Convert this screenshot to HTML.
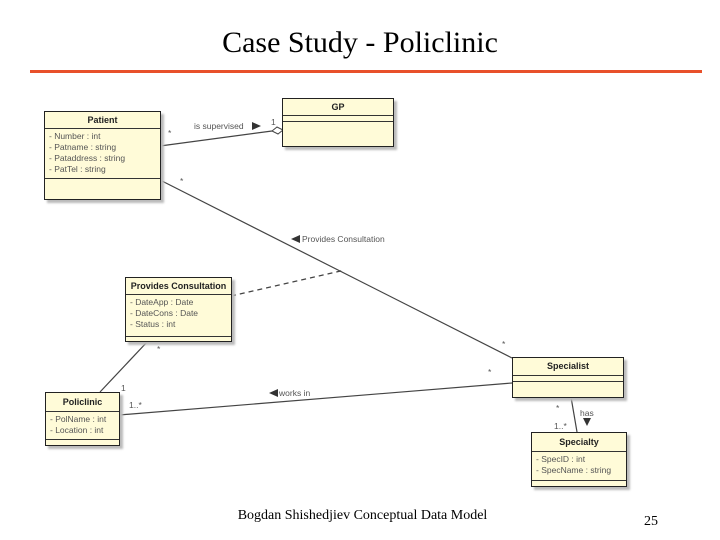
<!DOCTYPE html>
<html><head><style>
body{margin:0;width:720px;height:540px;background:#fff;position:relative;overflow:hidden;font-family:"Liberation Sans",sans-serif}
.t{position:absolute;white-space:nowrap}
.box{position:absolute;background:#fffbd8;border:1.5px solid #222;box-shadow:3px 3px 2px #bbb;box-sizing:border-box}
.h{font-weight:bold;font-size:9px;text-align:center;border-bottom:1px solid #333;color:#222}
.a{font-size:8.5px;color:#555;padding:2px 4px;line-height:11px;border-bottom:1px solid #333}
.l{font-size:8.5px;color:#555}
</style></head><body>
<div class="t" style="left:0;width:720px;text-align:center;top:26px;font-family:'Liberation Serif',serif;font-size:30px">Case Study - Policlinic</div>
<div style="position:absolute;left:30px;top:70px;width:672px;height:3px;background:#e8502a"></div>

<svg width="720" height="540" style="position:absolute;left:0;top:0">
<g stroke="#444" stroke-width="1.2" fill="none">
<line x1="160" y1="146" x2="272" y2="131"/>
<line x1="160" y1="180" x2="512" y2="358"/>
<line x1="231" y1="296" x2="345" y2="270" stroke-dasharray="5,4"/>
<line x1="148" y1="341" x2="100" y2="392"/>
<line x1="119" y1="415" x2="512" y2="383"/>
<line x1="571" y1="397" x2="577" y2="432"/>
</g>
<polygon points="272,131 277,127 283,130 278,134" fill="#fff" stroke="#444"/>
<polygon points="252,122 261,126 252,130" fill="#333"/>
<polygon points="300,235 291,239 300,243" fill="#333"/>
<polygon points="278,389 269,393 278,397" fill="#333"/>
<polygon points="583,418 591,418 587,426" fill="#333"/>
</svg>

<div class="t l" style="left:194px;top:121px">is supervised</div>
<div class="t l" style="left:271px;top:117px">1</div>
<div class="t l" style="left:168px;top:128px">*</div>
<div class="t l" style="left:180px;top:176px">*</div>
<div class="t l" style="left:302px;top:234px">Provides Consultation</div>
<div class="t l" style="left:157px;top:344px">*</div>
<div class="t l" style="left:121px;top:383px">1</div>
<div class="t l" style="left:129px;top:400px">1..*</div>
<div class="t l" style="left:279px;top:388px">works in</div>
<div class="t l" style="left:502px;top:339px">*</div>
<div class="t l" style="left:488px;top:367px">*</div>
<div class="t l" style="left:556px;top:403px">*</div>
<div class="t l" style="left:580px;top:408px">has</div>
<div class="t l" style="left:554px;top:421px">1..*</div>

<div class="box" style="left:44px;top:111px;width:117px;height:89px">
<div class="h" style="height:16px;line-height:16px">Patient</div>
<div class="a" style="height:45px">- Number : int<br>- Patname : string<br>- Pataddress : string<br>- PatTel : string</div>
</div>
<div class="box" style="left:282px;top:98px;width:112px;height:49px">
<div class="h" style="height:16px;line-height:16px">GP</div>
<div style="height:5px;border-bottom:1px solid #333"></div>
</div>
<div class="box" style="left:125px;top:277px;width:107px;height:65px">
<div class="h" style="height:16px;line-height:16px">Provides Consultation</div>
<div class="a" style="height:37px">- DateApp : Date<br>- DateCons : Date<br>- Status : int</div>
</div>
<div class="box" style="left:45px;top:392px;width:75px;height:54px">
<div class="h" style="height:18px;line-height:18px">Policlinic</div>
<div class="a" style="height:23px">- PolName : int<br>- Location : int</div>
</div>
<div class="box" style="left:512px;top:357px;width:112px;height:41px">
<div class="h" style="height:17px;line-height:17px">Specialist</div>
<div style="height:5px;border-bottom:1px solid #333"></div>
</div>
<div class="box" style="left:531px;top:432px;width:96px;height:55px">
<div class="h" style="height:18px;line-height:18px">Specialty</div>
<div class="a" style="height:24px">- SpecID : int<br>- SpecName : string</div>
</div>

<div class="t" style="left:0;width:725px;text-align:center;top:508px;font-family:'Liberation Serif',serif;font-size:14px">Bogdan Shishedjiev Conceptual Data Model</div>
<div class="t" style="left:644px;top:514px;font-family:'Liberation Serif',serif;font-size:14px">25</div>
</body></html>
